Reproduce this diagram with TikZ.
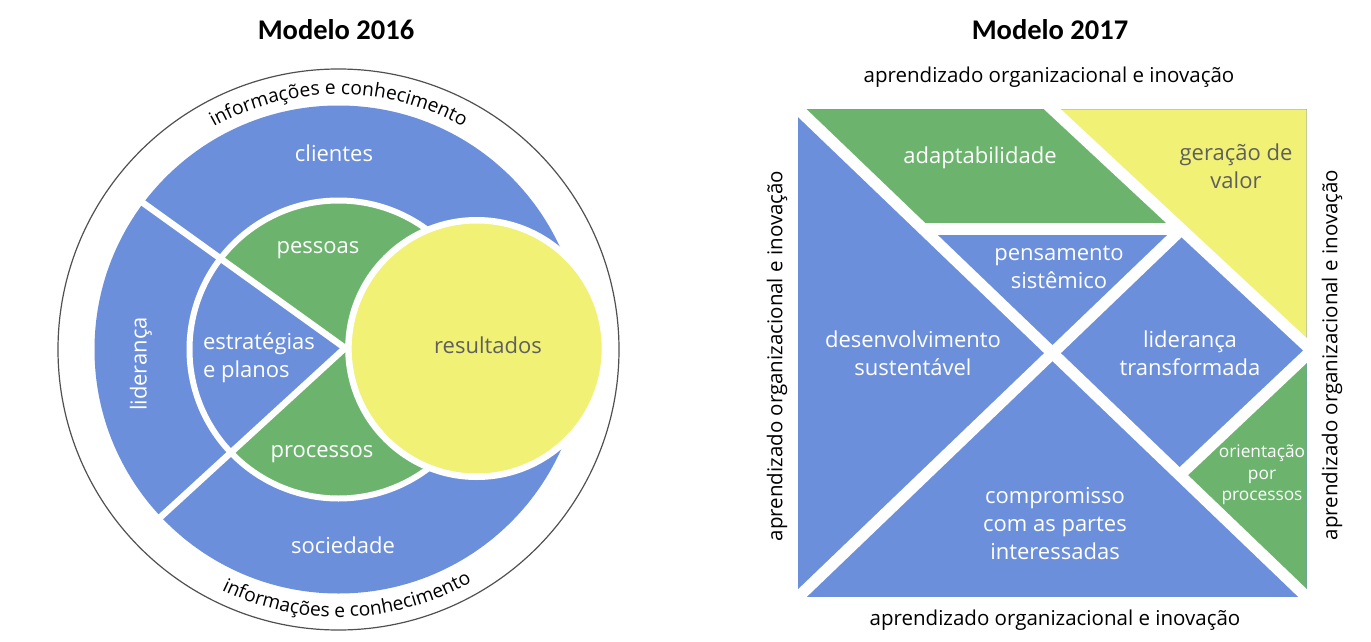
\documentclass[tikz,border=0pt]{standalone}
\usepackage{fontspec}
\setmainfont{Open Sans}
\newfontfamily\titlefont{Carlito}
\usetikzlibrary{decorations.text,calc}
\definecolor{cblue}{RGB}{108,143,220}
\definecolor{cgreen}{RGB}{108,180,110}
\definecolor{cyellow}{RGB}{240,241,117}
\definecolor{cgraytext}{RGB}{95,95,95}
\definecolor{cring}{RGB}{80,80,80}
\newcommand\arcfont{\fontsize{19.2}{21}\selectfont}
\tikzset{
  title/.style={font=\titlefont\bfseries\fontsize{28.5}{34}\selectfont, text=black, inner sep=0pt},
  lbl/.style={font=\fontsize{22}{28}\selectfont, text=white, align=center, inner sep=0pt},
  dlbl/.style={lbl, text=cgraytext},
  slbl/.style={font=\fontsize{17.3}{21.5}\selectfont, text=white, align=center, inner sep=0pt},
  outer/.style={font=\fontsize{20.5}{24}\selectfont, text=black, inner sep=0pt},
  sep/.style={draw=white, line width=6.5pt},
  gap/.style={draw=white, line width=11.5pt},
}
\begin{document}
\begin{tikzpicture}[x=1pt,y=1pt]
\useasboundingbox (0,0) rectangle (1371,-642);
\fill[white] (0,0) rectangle (1371,-642);

% titles
\node[title] (t16) at (336,-30) {Modelo 2016};
\node[title] (t17) at (1050,-30) {Modelo 2017};

% ---------------- Modelo 2016 ----------------
\coordinate (C) at (338.5,-349.5);
\coordinate (J) at (345,-348);
\coordinate (Y) at (476.7,-348.5);
\draw[cring, line width=1.2pt] (C) circle (280.5);
\fill[cblue] (C) circle (244);
\fill[cgreen] (C) circle (149);
\begin{scope}
  \clip (C) circle (149);
  \fill[cblue] (J) -- +(144.3:300) -- +(180:300) -- +(222.5:300) -- cycle;
\end{scope}
\draw[sep] ($(J)+(144.3:-10)$) -- ($(J)+(144.3:252)$);
\draw[sep] ($(J)+(222.5:-10)$) -- ($(J)+(222.5:255)$);
\draw[white, line width=6pt] (C) circle (149);
\draw[white, line width=6.5pt, fill=cyellow] (Y) circle (128.25);

\path[decorate, decoration={text along path, text align=center,
  text={|\arcfont|informações e conhecimento}}]
  ($(C)+(150:255)$) arc[start angle=150, end angle=30, radius=255];
\path[decorate, decoration={text along path, text align=center,
  text={|\arcfont|informações e conhecimento}}]
  ($(C)+(212:267.5)$) arc[start angle=212, end angle=332, radius=267.5];

\node[lbl] (clientes) at (334,-153) {clientes};
\node[lbl] (pessoas) at (318,-250) {pessoas};
\node[lbl, align=left] (estr) at (259,-358) {estratégias\\e planos};
\node[dlbl] (result) at (488,-345) {resultados};
\node[lbl] (proc) at (322,-454) {processos};
\node[lbl] (soc) at (343,-545) {sociedade};
\node[lbl, rotate=90] (lid) at (141,-364) {liderança};

% ---------------- Modelo 2017 ----------------
\coordinate (P00) at (798.3,-109.3);
\coordinate (P10) at (1306.7,-109.3);
\coordinate (P01) at (798.3,-597);
\coordinate (P11) at (1306.7,-597);
\coordinate (M) at (1052.5,-353.15);
\coordinate (Q) at (1052.5,-109.3);
\coordinate (R) at (1306.7,-353.15);
\coordinate (R4) at (1310,-349);
\coordinate (R5) at (1310,-352);
\coordinate (S) at (925.4,-231.2);
\coordinate (T) at (1179.6,-231.2);
\coordinate (U) at (1179.6,-475.1);
\coordinate (HL) at (923.1,-229);
\coordinate (HR) at (1177.3,-229);

\fill[cblue] (P00) rectangle (P11);
\fill[cgreen] (P00) -- (Q) -- (T) -- (S) -- cycle;
\fill[cyellow] (Q) -- (P10) -- (R) -- cycle;
\fill[cgreen] (R) -- (P11) -- (U) -- cycle;

\draw[gap] ($(P00)!-0.02!(P11)$) -- ($(P00)!1.02!(P11)$);
\draw[gap] ($(P01)!-0.03!(T)$) -- (T);
\draw[gap] ($(Q)!-0.05!(R4)$) -- ($(Q)!1.02!(R4)$);
\draw[gap] (U) -- ($(U)!1.05!(R5)$);
\draw[gap] (HL) -- (HR);

\node[lbl] (adapt) at (980,-158) {adaptabilidade};
\node[dlbl] (valor) at (1236,-166) {geração de\\valor};
\node[lbl] (pens) at (1059,-267) {pensamento\\sistêmico};
\node[lbl] (desenv) at (913,-353) {desenvolvimento\\sustentável};
\node[lbl] (lidt) at (1190,-353) {liderança\\transformada};
\node[lbl] (comp) at (1055,-524) {compromisso\\com as partes\\interessadas};
\node[slbl] (orient) at (1262,-475) {orientação\\por\\processos};

\node[outer] (ltop) at (1049,-77) {aprendizado organizacional e inovação};
\node[outer] (lbot) at (1055,-620) {aprendizado organizacional e inovação};
\node[outer, rotate=90] (lleft) at (777,-356) {aprendizado organizacional e inovação};
\node[outer, rotate=90] (lright) at (1332,-355) {aprendizado organizacional e inovação};
\end{tikzpicture}
\end{document}
